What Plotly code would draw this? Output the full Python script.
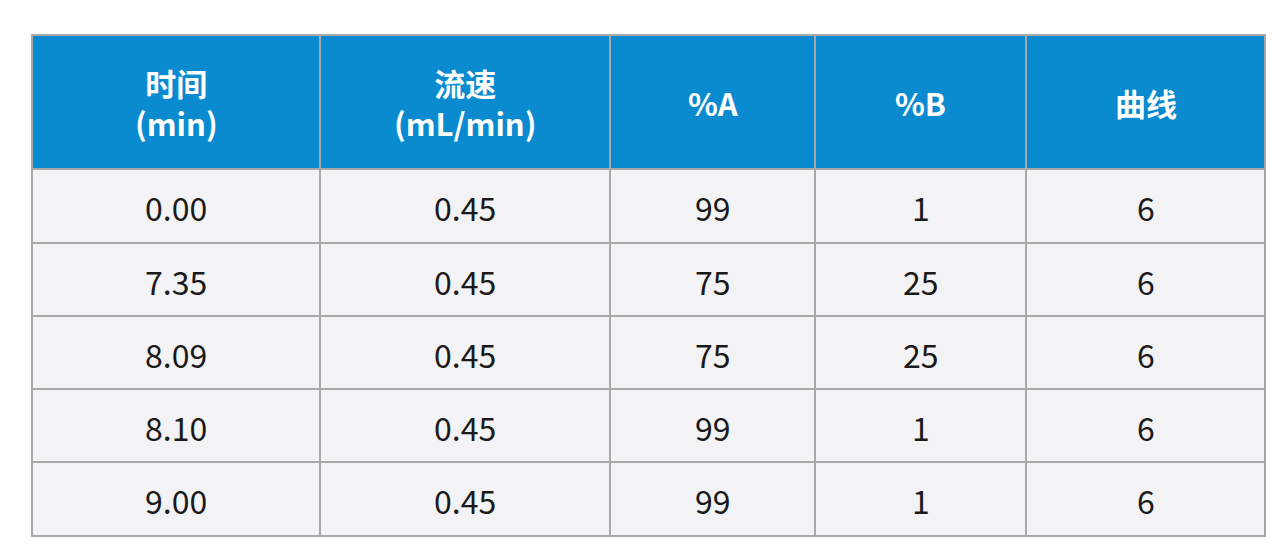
import plotly.graph_objects as go

headers = ["时间<br>(min)", "流速<br>(mL/min)", "%A", "%B", "曲线"]
time = ["0.00", "7.35", "8.09", "8.10", "9.00"]
flow = ["0.45", "0.45", "0.45", "0.45", "0.45"]
pct_a = ["99", "75", "75", "99", "99"]
pct_b = ["1", "25", "25", "1", "1"]
curve = ["6", "6", "6", "6", "6"]
columns = [time, flow, pct_a, pct_b, curve]

col_edges = [24, 312, 602, 807, 1018, 1257]
row_edges = [27, 161, 235, 308, 381, 454, 528]
font = "Noto Sans CJK SC"

fig = go.Figure()
shapes, annots = [], []
for r in range(len(row_edges) - 1):
    for c in range(len(col_edges) - 1):
        x0, x1 = col_edges[c], col_edges[c + 1]
        y0, y1 = row_edges[r], row_edges[r + 1]
        shapes.append(dict(type="rect", x0=x0, x1=x1, y0=y0, y1=y1,
                           fillcolor="#0a8bd0" if r == 0 else "#f3f2f5",
                           line=dict(color="#a8a8a8", width=2), layer="below"))
        if r == 0:
            txt = "<b>" + headers[c].replace("<br>", "</b><br><b>") + "</b>"
            annots.append(dict(x=(x0 + x1) / 2, y=(y0 + y1) / 2, text=txt, showarrow=False,
                               font=dict(family=font, size=31, color="white"),
                               xanchor="center", yanchor="middle"))
        else:
            annots.append(dict(x=(x0 + x1) / 2, y=(y0 + y1) / 2 + 1, text=columns[c][r - 1],
                               showarrow=False, font=dict(family=font, size=32, color="#1a1a1a"),
                               xanchor="center", yanchor="middle"))

fig.update_layout(width=1280, height=556, margin=dict(l=0, r=0, t=0, b=0),
                  paper_bgcolor="white", plot_bgcolor="white",
                  shapes=shapes, annotations=annots, showlegend=False,
                  xaxis=dict(range=[0, 1280], visible=False, fixedrange=True),
                  yaxis=dict(range=[556, 0], visible=False, fixedrange=True))
fig.write_html("out.html")
